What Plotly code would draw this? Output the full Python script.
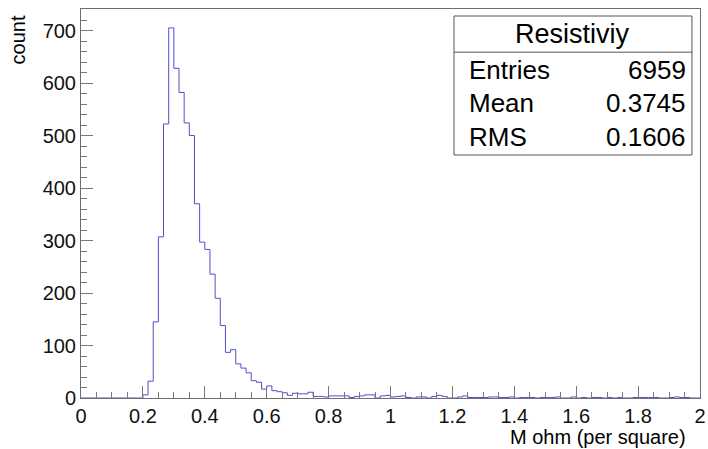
import numpy as np
import plotly.graph_objects as go

# ---- data ----
hist_name = "Resistiviy"
x_title = "M ohm (per square)"
y_title = "count"
x_min, x_max, n_bins = 0.0, 2.0, 120
counts = [
    0, 0, 0, 0, 0, 0, 0, 0, 0, 0, 0, 0,
    6, 32, 145, 307, 522, 705, 628, 582, 524, 500, 370, 297, 283, 236, 190, 138,
    87, 92, 65, 57, 48, 33, 30, 17, 23, 14, 12, 10, 5, 9, 8, 8, 11, 3, 3, 2, 4, 4, 4,
    4, 1, 3, 4, 6, 6, 0, 4, 5, 2, 3, 4, 1, 0, 2, 2, 0, 3, 5,
    3, 0, 0, 2, 4, 1, 1, 1, 1, 2, 2, 1, 1, 2, 0, 1, 1,
    1, 0, 1, 1, 1, 2, 0, 0, 2, 0, 1, 0, 1, 1, 0, 1, 0, 1,
    0, 0, 1, 1, 1, 1, 1, 0, 0, 1, 2, 1, 1, 0, 0,
]
stat_labels = ["Entries", "Mean", "RMS"]
stat_values = ["6959", "0.3745", "0.1606"]
x_ticks = [0, 0.2, 0.4, 0.6, 0.8, 1, 1.2, 1.4, 1.6, 1.8, 2]
x_tick_text = ["0", "0.2", "0.4", "0.6", "0.8", "1", "1.2", "1.4", "1.6", "1.8", "2"]
y_ticks = [0, 100, 200, 300, 400, 500, 600, 700]

edges = np.linspace(x_min, x_max, n_bins + 1)
ys = list(counts) + [counts[-1]]

FONT = "Liberation Sans, Arial, Helvetica, sans-serif"
fig = go.Figure()
fig.add_trace(go.Scatter(
    x=edges, y=ys, mode="lines", line=dict(color="#4f4fcf", width=1, shape="hv"),
    hoverinfo="skip", showlegend=False,
))

axis_common = dict(
    showgrid=False, zeroline=False, showline=True, linecolor="#6e6e6e", linewidth=1,
    mirror=True, ticks="inside", tickcolor="#7a7a7a", tickwidth=1, automargin=False,
    tickfont=dict(family=FONT, size=20, color="#111"),
)
fig.update_xaxes(
    range=[x_min, x_max], tickmode="array", tickvals=x_ticks, ticktext=x_tick_text,
    ticklen=12, minor=dict(dtick=0.05, ticklen=6, ticks="inside", tickcolor="#7a7a7a", showgrid=False),
    **axis_common,
)
fig.update_yaxes(
    range=[0, 741], tickmode="array", tickvals=y_ticks, ticklen=12,
    minor=dict(dtick=20, ticklen=6, ticks="inside", tickcolor="#7a7a7a", showgrid=False),
    **axis_common,
)

# stats box
bx0, bx1, by0, by1, bdiv = 0.6026, 0.987, 0.6247, 0.982, 0.889
fig.add_shape(type="rect", xref="paper", yref="paper", x0=bx0, x1=bx1, y0=by0, y1=by1,
              line=dict(color="#555", width=1), fillcolor="white", layer="above")
fig.add_shape(type="line", xref="paper", yref="paper", x0=bx0, x1=bx1, y0=bdiv, y1=bdiv,
              line=dict(color="#555", width=1), layer="above")
fig.add_annotation(xref="paper", yref="paper", x=(bx0 + bx1) / 2, y=0.936, text=hist_name,
                   showarrow=False, font=dict(family=FONT, size=27, color="#000"),
                   xanchor="center", yanchor="middle")
row_y = [0.843, 0.758, 0.671]
for lab, val, yy in zip(stat_labels, stat_values, row_y):
    fig.add_annotation(xref="paper", yref="paper", x=0.6236, y=yy, text=lab, showarrow=False,
                       font=dict(family=FONT, size=26, color="#000"), xanchor="left", yanchor="middle")
    fig.add_annotation(xref="paper", yref="paper", x=0.9806, y=yy, text=val, showarrow=False,
                       font=dict(family=FONT, size=26, color="#000"), xanchor="right", yanchor="middle")

# axis titles (ROOT style: right/top aligned)
fig.add_annotation(xref="paper", yref="paper", x=0.9806, y=-0.10, text=x_title, showarrow=False,
                   font=dict(family=FONT, size=20, color="#000"), xanchor="right", yanchor="middle")
fig.add_annotation(xref="paper", yref="paper", x=-0.1018, y=0.99, text=y_title,
                   showarrow=False, textangle=-90,
                   font=dict(family=FONT, size=20, color="#000"), xanchor="center", yanchor="top")

fig.update_layout(
    width=708, height=449, margin=dict(l=81, r=8, t=9, b=51),
    paper_bgcolor="white", plot_bgcolor="white",
)
fig.write_html("out.html", post_script="document.body.style.margin='0';",
               config={"displayModeBar": False})
